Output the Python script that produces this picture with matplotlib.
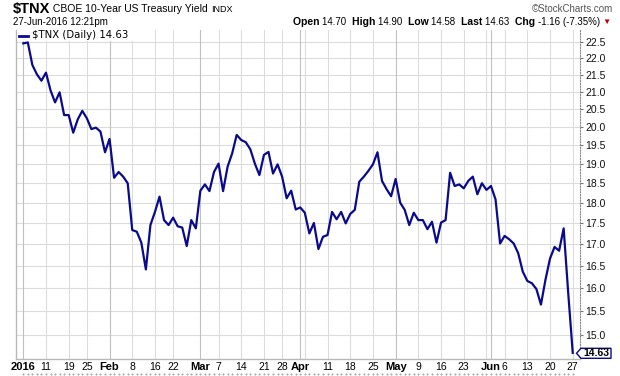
import numpy as np
import pandas as pd
import matplotlib
matplotlib.use("Agg")
import matplotlib.pyplot as plt
from matplotlib import transforms
from matplotlib.patches import Polygon, Rectangle
from matplotlib.ticker import FixedLocator, NullLocator

plt.rcParams["font.family"] = ["Liberation Sans", "DejaVu Sans"]

# ---- data -------------------------------------------------------------
holidays = ["2016-01-18", "2016-02-15", "2016-03-25", "2016-05-30"]
dates = pd.bdate_range("2016-01-04", "2016-06-27").drop(pd.to_datetime(holidays))

tnx = [22.45, 22.48, 21.79, 21.51, 21.32, 21.56, 21.04, 20.69, 20.98, 20.33,
       20.33, 19.84, 20.21, 20.45, 20.24, 19.94, 19.98, 19.87, 19.31, 19.67,
       18.64, 18.79, 18.67, 18.50, 17.34, 17.30, 17.04, 16.42, 17.46, 17.78,
       18.16, 17.58, 17.46, 17.64, 17.43, 17.40, 16.96, 17.58, 17.38, 18.31,
       18.47, 18.30, 18.79, 19.01, 18.30, 18.93, 19.28, 19.78, 19.64, 19.58,
       19.39, 19.01, 18.71, 19.24, 19.32, 18.75, 18.99, 18.67, 18.12, 18.31,
       17.84, 17.89, 17.76, 17.26, 17.51, 16.89, 17.18, 17.22, 17.78, 17.60,
       17.78, 17.50, 17.73, 17.83, 18.54, 18.67, 18.82, 18.99, 19.31, 18.56,
       18.35, 18.17, 18.61, 18.01, 17.83, 17.46, 17.76, 17.58, 17.58, 17.36,
       17.54, 17.04, 17.52, 17.58, 18.77, 18.43, 18.47, 18.37, 18.56, 18.67,
       18.22, 18.50, 18.33, 18.43, 18.09, 17.02, 17.20, 17.12, 17.02, 16.79,
       16.37, 16.16, 16.11, 15.98, 15.64, 16.19, 16.67, 16.94, 16.85, 17.38,
       15.90, 14.63]

week_lines = ["2016-01-11", "2016-01-19", "2016-01-25", "2016-02-08", "2016-02-16",
              "2016-02-22", "2016-03-07", "2016-03-14", "2016-03-21", "2016-03-28",
              "2016-04-04", "2016-04-11", "2016-04-18", "2016-04-25", "2016-05-09",
              "2016-05-16", "2016-05-23", "2016-05-31", "2016-06-06", "2016-06-13",
              "2016-06-20", "2016-06-27"]
month_lines = ["2016-01-04", "2016-02-01", "2016-03-01", "2016-04-01",
               "2016-05-02", "2016-06-01"]
month_labels = ["2016", "Feb", "Mar", "Apr", "May", "Jun"]
day_ticks = ["2016-01-11", "2016-01-19", "2016-01-25", "2016-02-08", "2016-02-16",
             "2016-02-22", "2016-03-07", "2016-03-14", "2016-03-21", "2016-03-28",
             "2016-04-11", "2016-04-18", "2016-04-25", "2016-05-09", "2016-05-16",
             "2016-05-23", "2016-06-06", "2016-06-13", "2016-06-20", "2016-06-27"]
y_ticks = [15.0, 15.5, 16.0, 16.5, 17.0, 17.5, 18.0, 18.5, 19.0, 19.5,
           20.0, 20.5, 21.0, 21.5, 22.0, 22.5]

quote = [("Open", "14.70"), ("High", "14.90"), ("Low", "14.58"),
         ("Last", "14.63"), ("Chg", "-1.16 (-7.35%)")]

# ---- layout helpers ---------------------------------------------------
W, H = 620, 376
NAVY = "#0a0a8c"

def px(x):
    return x / W

def py(y):
    return 1 - y / H

def idx(d):
    return dates.get_loc(pd.Timestamp(d))

fig = plt.figure(figsize=(W / 100, H / 100), dpi=100)
fig.patch.set_facecolor("white")
ax = fig.add_axes([px(16), py(359.3), px(580) - px(16), py(30) - py(359.3)])

x = np.arange(len(dates))
ax.set_yscale("log")
ax.set_ylim(14.50, 22.87)
ax.set_xlim(-1.6, 122.6)

for v in y_ticks:
    ax.axhline(v, color="#dcdcdc", lw=0.8, zorder=0)
for d in week_lines:
    ax.axvline(idx(d), color="#dcdcdc", lw=0.8, zorder=0)
for d in month_lines:
    ax.axvline(idx(d), color="#c0c0c0", lw=0.8, zorder=0)

ax.plot(x, tnx, color=NAVY, lw=1.6, zorder=3, solid_joinstyle="round")

ax.yaxis.tick_right()
ax.yaxis.set_major_locator(FixedLocator(y_ticks))
ax.yaxis.set_minor_locator(NullLocator())
ax.set_yticklabels([f"{v:.1f}" for v in y_ticks])
ax.tick_params(axis="y", length=2, pad=2, labelsize=7.5, colors="#777",
               labelcolor="#111")
ax.set_xticks([])
ax.spines["top"].set_visible(False)
for s in ("left", "bottom"):
    ax.spines[s].set_color("#b8b8b8")
    ax.spines[s].set_linewidth(1)
ax.spines["right"].set_color("#888")
ax.spines["right"].set_linestyle((0, (1, 1.5)))

# x labels
bt = transforms.blended_transform_factory(ax.transData, fig.transFigure)
for d, t in zip(month_lines, month_labels):
    ax.text(idx(d), py(366.7), t, transform=bt, ha="center", va="center",
            fontsize=8, fontweight="bold", clip_on=False)
for d in day_ticks:
    ax.text(idx(d), py(366.7), str(pd.Timestamp(d).day), transform=bt,
            ha="center", va="center", fontsize=7.5, clip_on=False)
ax.plot(x, [py(373.5)] * len(x), transform=bt, ls="", marker="s", ms=0.5,
        color="#aaa", clip_on=False)

# legend
fig.patches.append(Rectangle((px(16.5), py(41)), px(122), py(30) - py(41),
                             transform=fig.transFigure, fc="white", ec="none",
                             zorder=5))
fig.lines.append(plt.Line2D([px(19), px(28)], [py(35.5)] * 2, color=NAVY, lw=2,
                            transform=fig.transFigure, zorder=6))
fig.text(px(31.5), py(35.5), "\\$TNX (Daily) 14.63", fontsize=7.3,
         family="DejaVu Sans", va="center", ha="left", zorder=6)

# last value tag
fig.patches.append(Polygon([(px(576.5), py(353.3)), (px(581), py(348.3)),
                            (px(611), py(348.3)), (px(611), py(358.3)),
                            (px(581), py(358.3))], closed=True,
                           transform=fig.transFigure, fc="white", ec=NAVY,
                           lw=1, zorder=6))
fig.text(px(596), py(353.5), "14.63", fontsize=7.5, fontweight="bold",
         ha="center", va="center", zorder=7)

# header
renderer = fig.canvas.get_renderer()

def run(xs, y, parts):
    for t, fs, wt, col in parts:
        tx = fig.text(px(xs), py(y), t, fontsize=fs, fontweight=wt, color=col,
                      ha="left", va="center")
        xs += tx.get_window_extent(renderer).width
    return xs

def run_right(xe, y, parts):
    total = 0
    for t, fs, wt, col in parts:
        tmp = fig.text(0, 0, t, fontsize=fs, fontweight=wt)
        total += tmp.get_window_extent(renderer).width
        tmp.remove()
    run(xe - total, y, parts)

run(13, 9, [("\\$TNX", 10.5, "bold", "#000"),
            (" CBOE 10-Year US Treasury Yield ", 7.5, "normal", "#000"),
            ("INDX", 6.5, "normal", "#000")])
fig.text(px(613), py(9), "\u00a9StockCharts.com", fontsize=7, color="#555",
         ha="right", va="center")
fig.text(px(13), py(22), "27-Jun-2016 12:21pm", fontsize=7, ha="left",
         va="center")
parts = []
for k, v in quote:
    parts.append((k + " ", 7.5, "bold", "#000"))
    parts.append((v + "  ", 7, "normal", "#000"))
parts[-1] = (quote[-1][1] + " ", 7, "normal", "#000")
parts.append(("\u25bc", 6, "normal", "#c00000"))
run_right(611, 22, parts)

fig.savefig("out.png", dpi=100, facecolor="white")
